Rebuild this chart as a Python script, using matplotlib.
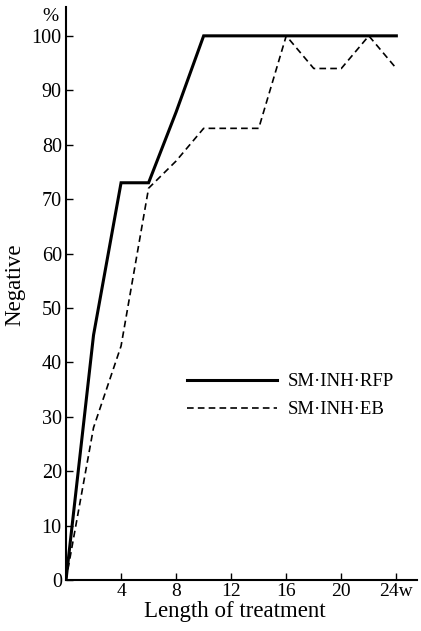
import matplotlib
matplotlib.use("Agg")
import matplotlib.pyplot as plt

weeks_rfp = [0, 2, 4, 6, 8, 10, 12, 14, 16, 18, 20, 22, 24]
rfp = [0, 45, 73, 73, 86, 100, 100, 100, 100, 100, 100, 100, 100]
weeks_eb = [0, 2, 4, 6, 8, 10, 12, 14, 16, 18, 20, 22, 24]
eb = [0, 28, 43, 72, 77, 83, 83, 83, 100, 94, 94, 100, 94]
xticks = [4, 8, 12, 16, 20, 24]
xticklabels = ["4", "8", "12", "16", "20", "24w"]
yticks = [0, 10, 20, 30, 40, 50, 60, 70, 80, 90, 100]
labels = ["SM·INH·RFP", "SM·INH·EB"]

plt.rcParams['font.family'] = ['Liberation Serif', 'DejaVu Serif']

W, H = 421, 631
x0, x1, y0, y1 = 66, 417, 580, 7
fig = plt.figure(figsize=(W/100, H/100), dpi=100)
ax = fig.add_axes([x0/W, 1-y0/H, (x1-x0)/W, (y0-y1)/H])
ax.plot(weeks_rfp, rfp, color='black', lw=2.2, solid_joinstyle='miter', label=labels[0])
ax.plot(weeks_eb, eb, color='black', lw=1.2, dashes=(4, 2.5), label=labels[1])

ax.set_xlim(0, 25.5)
ax.set_ylim(0, 105.3)
ax.spines['top'].set_visible(False)
ax.spines['right'].set_visible(False)
for s in ['left', 'bottom']:
    ax.spines[s].set_linewidth(1.5)

ax.set_xticks(xticks)
ax.set_xticklabels(xticklabels)
ax.set_yticks(yticks)
ax.tick_params(axis='x', direction='in', length=5, width=1, labelsize=14, pad=2.5)
ax.tick_params(axis='y', direction='in', length=5, width=1, labelsize=14.5, pad=3)
ax.text(-1.1, 103.6, "%", ha='center', va='center', fontsize=14)

fig.text(235/W, 1-617/H, "Length of treatment", ha='center', va='baseline', fontsize=16.5)
fig.text(15/W, 1-285/H, "Negative", ha='center', va='center', rotation=90, fontsize=16.5)

leg = ax.legend(loc='upper left', bbox_to_anchor=((187-x0)/(x1-x0), (y0-373)/(y0-y1)),
                frameon=False, fontsize=13.5, handlelength=4.8, handletextpad=0.55,
                labelspacing=0.6, borderaxespad=0, borderpad=0)

fig.savefig("out.png", dpi=100)
